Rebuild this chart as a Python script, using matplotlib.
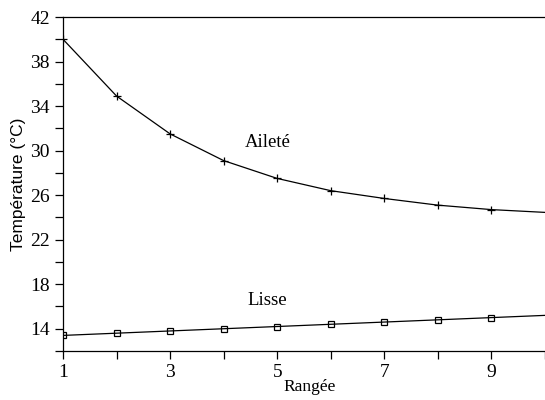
import numpy as np
from matplotlib import pyplot as plt
from matplotlib.ticker import MultipleLocator

# rangées et températures relevées
rangee = [1, 2, 3, 4, 5, 6, 7, 8, 9, 10]
ailete = [40.0, 34.9, 31.5, 29.1, 27.5, 26.4, 25.7, 25.1, 24.7, 24.45]
lisse = [13.4, 13.6, 13.8, 14.0, 14.2, 14.4, 14.6, 14.8, 15.0, 15.2]

plt.rcParams['font.family'] = ['Liberation Serif', 'DejaVu Serif']

fig = plt.figure(figsize=(5.45, 4), dpi=100)
ax = fig.add_axes([0.1156, 0.1225, 0.8844, 0.835])

ax.plot(rangee, ailete, '-', c='black', lw=0.9, marker='+', ms=6, mew=0.9,
        markevery=list(range(9)))
ax.plot(rangee, lisse, '-', c='black', lw=0.9, marker='s', ms=5, mew=0.9,
        mfc='none', markevery=list(range(9)))

ax.text(4.4, 30.7, 'Aileté', fontsize=13.5, va='center')
ax.text(4.45, 16.5, 'Lisse', fontsize=13.5, va='center')

ax.set_xlim(1, 10)
ax.set_ylim(12, 42)
ax.xaxis.set_major_locator(MultipleLocator(2, offset=1))
ax.xaxis.set_minor_locator(MultipleLocator(1))
ax.set_yticks([14, 18, 22, 26, 30, 34, 38, 42])
ax.yaxis.set_minor_locator(MultipleLocator(2))
ax.tick_params(which='both', direction='out', labelsize=14, width=0.9, color='black')
ax.tick_params(which='major', length=6)
ax.tick_params(which='minor', length=6)

ax.spines['right'].set_visible(False)
for s in ['top', 'left', 'bottom']:
    ax.spines[s].set_linewidth(0.9)

ax.set_xlabel('Rangée', fontsize=12.5)
ax.xaxis.set_label_coords(0.512, -0.085)
ax.set_ylabel('Température (°C)', fontsize=12.5, labelpad=3,
              family=['Liberation Sans Narrow', 'Liberation Sans', 'DejaVu Sans'])

fig.savefig('out.png', dpi=100)
